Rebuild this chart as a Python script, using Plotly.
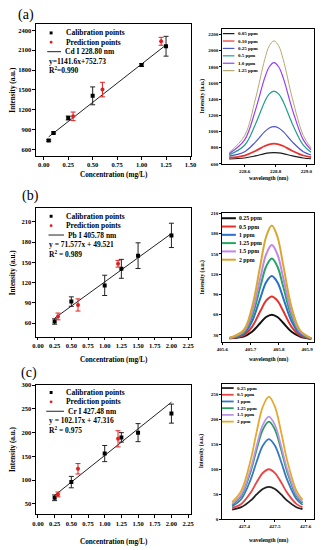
import plotly.graph_objects as go

W, H = 323, 550
FONT = "Liberation Serif"

# ---------------- Panel (a) : Cd ----------------
a_cal_x = [0.05, 0.10, 0.25, 0.50, 1.00, 1.25]
a_cal_y = [735, 850, 1075, 1410, 1875, 2160]
a_cal_err = [12, 15, 30, 135, 20, 150]
a_pred_x = [0.30, 0.60, 1.20]
a_pred_y = [1100, 1505, 2235]
a_pred_err = [65, 110, 60]
a_fit_x = [0.05, 1.25]
a_fit_y = [790, 2180]

a_wl = [228.50, 228.60, 228.67, 228.73, 228.76, 228.79, 228.82, 228.85, 228.91, 228.98, 229.03]
a_s005 = [661, 673, 699, 727, 736, 740, 736, 727, 699, 673, 664]
a_s010 = [678, 704, 760, 821, 842, 850, 842, 821, 760, 704, 685]
a_s025 = [696, 751, 870, 999, 1044, 1060, 1044, 999, 870, 751, 711]
a_s050 = [712, 831, 1090, 1368, 1465, 1500, 1465, 1368, 1090, 831, 745]
a_s100 = [727, 897, 1265, 1662, 1800, 1850, 1800, 1662, 1265, 897, 774]
a_s125 = [741, 950, 1402, 1889, 2058, 2120, 2058, 1889, 1402, 950, 798]
a_labels = ["0.05 ppm", "0.10 ppm", "0.25 ppm", "0.5 ppm", "1.0 ppm", "1.25 ppm"]
a_colors = ["#1a1a1a", "#e8332e", "#4b55c8", "#1f9e8e", "#9a3df0", "#b7a774"]

# ---------------- Panel (b) : Pb ----------------
b_cal_x = [0.25, 0.50, 1.00, 1.25, 1.50, 2.00]
b_cal_y = [62.5, 92, 116, 140.5, 160, 190]
b_cal_err = [4, 7, 15, 14, 19, 18]
b_pred_x = [0.30, 0.60, 1.20]
b_pred_y = [70, 87, 148]
b_pred_err = [5, 9, 5]
b_fit_x = [0.25, 2.00]
b_fit_y = [67.4, 192.7]

b_wl = [405.625, 405.675, 405.705, 405.735, 405.755, 405.775, 405.795, 405.815, 405.845, 405.875, 405.915]
b_s025 = [25, 27.5, 34.6, 47.9, 56.5, 60, 56.5, 47.9, 34.6, 27.5, 24]
b_s050 = [25.2, 29.4, 42, 65.6, 80.8, 87, 80.8, 65.6, 42, 29.4, 24.3]
b_s100 = [25.2, 31.5, 50.2, 85.3, 107.8, 117, 107.8, 85.3, 50.2, 31.5, 24.5]
b_s125 = [25.3, 33.4, 57.3, 102.3, 131.2, 143, 131.2, 102.3, 57.3, 33.4, 24.7]
b_s150 = [25.4, 34.8, 62.8, 115.4, 149.2, 163, 149.2, 115.4, 62.8, 34.8, 24.8]
b_s200 = [25.4, 36.9, 70.8, 134.4, 175.3, 192, 175.3, 134.4, 70.8, 36.9, 24.9]
b_labels = ["0.25 ppm", "0.5 ppm", "1 ppm", "1.25 ppm", "1.5 ppm", "2 ppm"]
b_colors = ["#111111", "#e8302a", "#2a6fc9", "#22a565", "#c584ea", "#d9a62e"]

# ---------------- Panel (c) : Cr ----------------
c_cal_x = [0.25, 0.50, 1.00, 1.25, 1.50, 2.00]
c_cal_y = [63, 96, 156, 190, 200, 240]
c_cal_err = [6, 12, 17, 10, 19, 20]
c_pred_x = [0.30, 0.60, 1.20]
c_pred_y = [70, 124, 187]
c_pred_err = [5, 11, 17]
c_fit_x = [0.25, 2.00]
c_fit_y = [68, 264]

c_wl = [427.36, 427.39, 427.42, 427.44, 427.46, 427.48, 427.50, 427.52, 427.54, 427.57, 427.59]
c_s025 = [19.3, 24.3, 37.3, 49.7, 60.6, 65, 60.6, 49.7, 37.3, 24.3, 20.4]
c_s050 = [22.3, 30.8, 52.9, 73.9, 92.5, 100, 92.5, 73.9, 52.9, 30.8, 24]
c_s100 = [25.9, 40.6, 78.7, 115, 147, 160, 147, 115, 78.7, 40.6, 28.9]
c_s125 = [28.9, 47.1, 94.3, 139.3, 178.9, 195, 178.9, 139.3, 94.3, 47.1, 32.6]
c_s150 = [31.1, 50.2, 99.6, 146.6, 188.2, 205, 188.2, 146.6, 99.6, 50.2, 35]
c_s200 = [34.2, 57.3, 117.2, 174.3, 224.6, 245, 224.6, 174.3, 117.2, 57.3, 38.9]
c_labels = ["0.25 ppm", "0.5 ppm", "1 ppm", "1.25 ppm", "1.5 ppm", "2 ppm"]
c_colors = ["#222222", "#e84545", "#3778c4", "#2c9a63", "#b996e6", "#e5a92d"]

fig = go.Figure()


def px(x):
    return x / W


def py(y):
    return 1 - y / H


def calib(xs, ys, err, pxs, pys, perr, fx, fy, xa, ya):
    fig.add_trace(go.Scatter(x=fx, y=fy, mode="lines", line=dict(color="#222", width=1),
                             xaxis=xa, yaxis=ya, showlegend=False, hoverinfo="skip"))
    fig.add_trace(go.Scatter(x=xs, y=ys, mode="markers",
                             marker=dict(symbol="square", size=4, color="black"),
                             error_y=dict(type="data", array=err, color="#222", thickness=1, width=2.5),
                             xaxis=xa, yaxis=ya, showlegend=False))
    fig.add_trace(go.Scatter(x=pxs, y=pys, mode="markers",
                             marker=dict(symbol="circle", size=4, color="#e02020"),
                             error_y=dict(type="data", array=perr, color="#e02020", thickness=1, width=2.5),
                             xaxis=xa, yaxis=ya, showlegend=False))


def spectra(wl, series, colors, widths, xa, ya):
    for s, c, w in zip(series, colors, widths):
        fig.add_trace(go.Scatter(x=wl, y=s, mode="lines", line=dict(color=c, width=w, shape="spline", smoothing=1),
                                 xaxis=xa, yaxis=ya, showlegend=False))


calib(a_cal_x, a_cal_y, a_cal_err, a_pred_x, a_pred_y, a_pred_err, a_fit_x, a_fit_y, "x", "y")
spectra(a_wl, [a_s005, a_s010, a_s025, a_s050, a_s100, a_s125], a_colors, [1.2, 1.8, 1.2, 1.2, 1.2, 1.0], "x2", "y2")
calib(b_cal_x, b_cal_y, b_cal_err, b_pred_x, b_pred_y, b_pred_err, b_fit_x, b_fit_y, "x3", "y3")
spectra(b_wl, [b_s025, b_s050, b_s100, b_s125, b_s150, b_s200], b_colors, [2, 2, 2, 2, 2, 2], "x4", "y4")
calib(c_cal_x, c_cal_y, c_cal_err, c_pred_x, c_pred_y, c_pred_err, c_fit_x, c_fit_y, "x5", "y5")
spectra(c_wl, [c_s025, c_s050, c_s100, c_s125, c_s150, c_s200], c_colors, [1.8] * 6, "x6", "y6")


def axis(domain, rng, dtick, tick0, fmt, size, anchor, ticklen=2.5):
    return dict(domain=domain, range=rng, dtick=dtick, tick0=tick0, tickformat=fmt,
                showline=True, linecolor="black", linewidth=1, mirror=True,
                ticks="outside", ticklen=ticklen, tickwidth=1, tickcolor="black",
                tickfont=dict(family=FONT, size=size, color="black", weight="bold"),
                showgrid=False, zeroline=False, anchor=anchor, fixedrange=True)


LX = [px(31), px(192)]
RX = [px(224), px(319)]

fig.update_layout(
    width=W, height=H, margin=dict(l=0, r=0, t=0, b=0),
    paper_bgcolor="white", plot_bgcolor="white",
    xaxis=axis(LX, [-0.08, 1.51], 0.25, 0, ".2f", 6.5, "y"),
    yaxis=axis([py(154), py(20)], [500, 2500], 300, 600, "d", 6.5, "x"),
    xaxis2=axis(RX, [228.456, 229.05], 0.2, 228.6, ".1f", 5, "y2", 2),
    yaxis2=axis([py(162), py(25)], [600, 2270], 200, 600, "d", 5, "x2", 2),
    xaxis3=axis(LX, [-0.03, 2.3], 0.25, 0, ".2f", 6.5, "y3"),
    yaxis3=axis([py(337), py(207)], [40, 230], 30, 60, "d", 6.5, "x3"),
    xaxis4=axis(RX, [405.6, 405.925], 0.1, 405.6, ".1f", 5, "y4", 2),
    yaxis4=axis([py(342), py(212)], [20, 210], 30, 30, "d", 5, "x4", 2),
    xaxis5=axis(LX, [-0.03, 2.3], 0.25, 0, ".2f", 6.5, "y5"),
    yaxis5=axis([py(517), py(386)], [28, 300], 50, 50, "d", 6.5, "x5"),
    xaxis6=axis(RX, [427.328, 427.628], 0.1, 427.4, ".1f", 5, "y6", 2),
    yaxis6=axis([py(522), py(385)], [0, 270], 50, 0, "d", 5, "x6", 2),
)

anns = []
shapes = []


def ann(text, x, y, size, xanchor="left", weight="bold", angle=0, color="black"):
    anns.append(dict(text=text, x=px(x), y=py(y), xref="paper", yref="paper", xanchor=xanchor,
                     yanchor="middle", showarrow=False, textangle=angle,
                     font=dict(family=FONT, size=size, color=color, weight=weight)))


# panel labels
ann("(a)", 10, 11, 14, weight="normal")
ann("(b)", 14, 194, 14, weight="normal")
ann("(c)", 13, 374, 14, weight="normal")

# left panel axis titles
for yc, yt in [(87, 173), (272, 361), (451, 545)]:
    ann("Concentration (mg/L)", 111.5, yt, 7.2, xanchor="center")
    ann("Intensity (a.u.)", 7, yc, 7.2, xanchor="center", angle=-90)

# right panel axis titles
for yc, yt, xt in [(93.5, 177, 203), (277, 360, 203), (453, 543, 202)]:
    ann("wavelength (nm)", 271.5, yt, 5.5, xanchor="center")
    ann("Intensity (a.u.)", xt, yc, 5.5, xanchor="center", angle=-90)


# left panel legends
def left_legend(y0, line_x0, line_x1, text_x, elem, eq, r2):
    shapes.append(dict(type="rect", xref="paper", yref="paper", x0=px(45.2), x1=px(48.2),
                       y0=py(y0 + 1.5), y1=py(y0 - 1.5), fillcolor="black", line=dict(width=0)))
    ann("Calibration points", text_x, y0, 7.5)
    shapes.append(dict(type="circle", xref="paper", yref="paper", x0=px(45.2), x1=px(48.2),
                       y0=py(y0 + 9.5 + 1.5), y1=py(y0 + 9.5 - 1.5), fillcolor="#e02020", line=dict(width=0)))
    ann("Prediction points", text_x, y0 + 9.5, 7.5)
    shapes.append(dict(type="line", xref="paper", yref="paper", x0=px(line_x0), x1=px(line_x1),
                       y0=py(y0 + 19), y1=py(y0 + 19), line=dict(color="#222", width=1)))
    ann(elem, line_x1 + 2.5, y0 + 19, 7.5)
    ann(eq, 42.5, y0 + 28.5, 7.5)
    ann(r2, 42.5, y0 + 38, 7.5)


left_legend(29.3, 42.7, 57, 60, "Cd I 228.80 nm", "y=1141.6x+752.73", "R<sup>2</sup>=0.990")
left_legend(215, 44, 60, 60, "Pb I 405.78 nm", "y = 71.577x + 49.521", "R<sup>2</sup> = 0.989")
left_legend(393.5, 41.7, 60, 60, "Cr I 427.48 nm", "y = 102.17x + 47.316", "R<sup>2</sup> = 0.975")


# right panel legends
def right_legend(labels, colors, y0, dy, x0, x1, tx, size, lw):
    for i, (lab, col) in enumerate(zip(labels, colors)):
        y = y0 + dy * i
        shapes.append(dict(type="line", xref="paper", yref="paper", x0=px(x0), x1=px(x1),
                           y0=py(y), y1=py(y), line=dict(color=col, width=lw)))
        ann(lab, tx, y, size)


right_legend(a_labels, a_colors, 30, 7.5, 224.5, 236.5, 238, 5, 1.2)
right_legend(b_labels, b_colors, 217, 8.4, 223.5, 238, 239.5, 5.8, 2)
right_legend(c_labels, c_colors, 389, 6.8, 223.5, 235.7, 237.5, 5, 1.8)

fig.update_layout(annotations=anns, shapes=shapes)
fig.write_html("out.html", config={"displayModeBar": False},
               post_script="document.body.style.margin='0';document.body.style.overflow='hidden';")
